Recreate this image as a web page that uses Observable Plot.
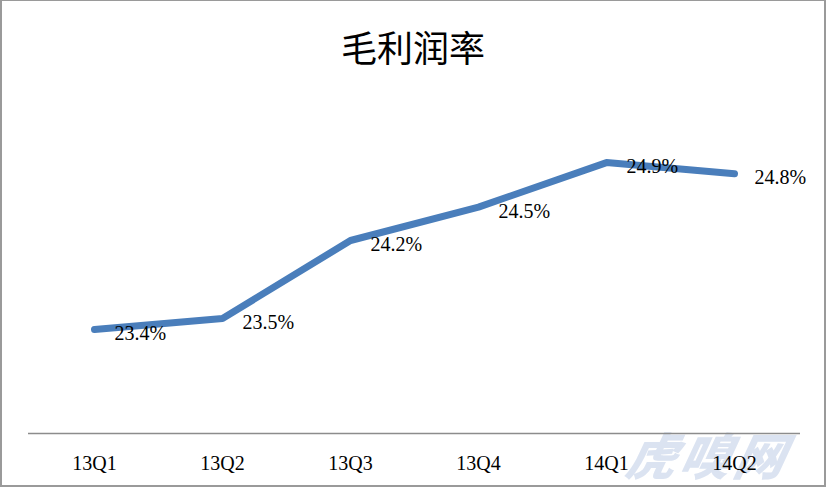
<!DOCTYPE html>
<html>
<head>
<meta charset="utf-8">
<script src="https://cdn.jsdelivr.net/npm/d3@7"></script>
<script src="https://cdn.jsdelivr.net/npm/@observablehq/plot@0.6"></script>
<style>
  html, body { margin: 0; padding: 0; background: #fff; }
  #wrap { position: relative; width: 826px; height: 487px; overflow: hidden; background: #fff; }
  #title { position: absolute; left: 0; top: 0; width: 826px; height: 90px; text-align: center;
           font-family: "Noto Sans CJK SC", sans-serif; font-size: 36px; line-height: 92px; color: #000; }
  #chart { position: absolute; left: 0; top: 90px; }
  #wm { position: absolute; left: 628px; top: 426px; width: 180px; height: 56px; font-family: "Noto Sans CJK SC", sans-serif;
        font-size: 50px; line-height: 54px; font-weight: 900; font-style: italic; color: #dbe3f1; letter-spacing: 4px;
        transform: skewX(-12deg); white-space: nowrap; }
  #frame { position: absolute; inset: 0; border: 2px solid #9a9a9a; border-top-width: 1px; box-sizing: border-box; pointer-events: none; }
</style>
</head>
<body>
<div id="wrap">
  <div id="wm">虎嗅网</div>
  <div id="title">毛利润率</div>
  <div id="chart"></div>
  <div id="frame"></div>
</div>
<script>
const quarters = ["13Q1", "13Q2", "13Q3", "13Q4", "14Q1", "14Q2"];
const margins = [23.4, 23.5, 24.2, 24.5, 24.9, 24.8];
const valueLabels = ["23.4%", "23.5%", "24.2%", "24.5%", "24.9%", "24.8%"];

const data = quarters.map((q, i) => ({q, v: margins[i], label: valueLabels[i]}));

const chart = Plot.plot({
  width: 826,
  height: 397,
  marginLeft: 28,
  marginRight: 26,
  marginTop: 10,
  marginBottom: 54,
  style: {fontFamily: "'Liberation Serif', serif", background: "transparent", overflow: "visible"},
  x: {type: "point", domain: quarters, padding: 0.5, label: null, tickSize: 0, tickPadding: 22},
  y: {domain: [22.466, 25.458], axis: null},
  marks: [
    Plot.ruleY([22.466], {stroke: "#8c8c8c", strokeWidth: 1.5}),
    Plot.line(data, {x: "q", y: "v", stroke: "#4a7ebb", strokeWidth: 7, strokeLinecap: "round", strokeLinejoin: "round"}),
    Plot.text(data, {x: "q", y: "v", text: "label", textAnchor: "start", dx: 20, dy: 4, fontSize: 20, fill: "#000"})
  ]
});
chart.querySelectorAll("[aria-label='x-axis tick label']").forEach(g => { g.setAttribute("font-size", "20"); g.setAttribute("fill", "#000"); });
chart.querySelectorAll("[aria-label='x-axis tick label'] text").forEach(t => { t.setAttribute("font-size", "20"); t.style.fontSize = "20px"; });
document.getElementById("chart").appendChild(chart);
</script>
</body>
</html>
